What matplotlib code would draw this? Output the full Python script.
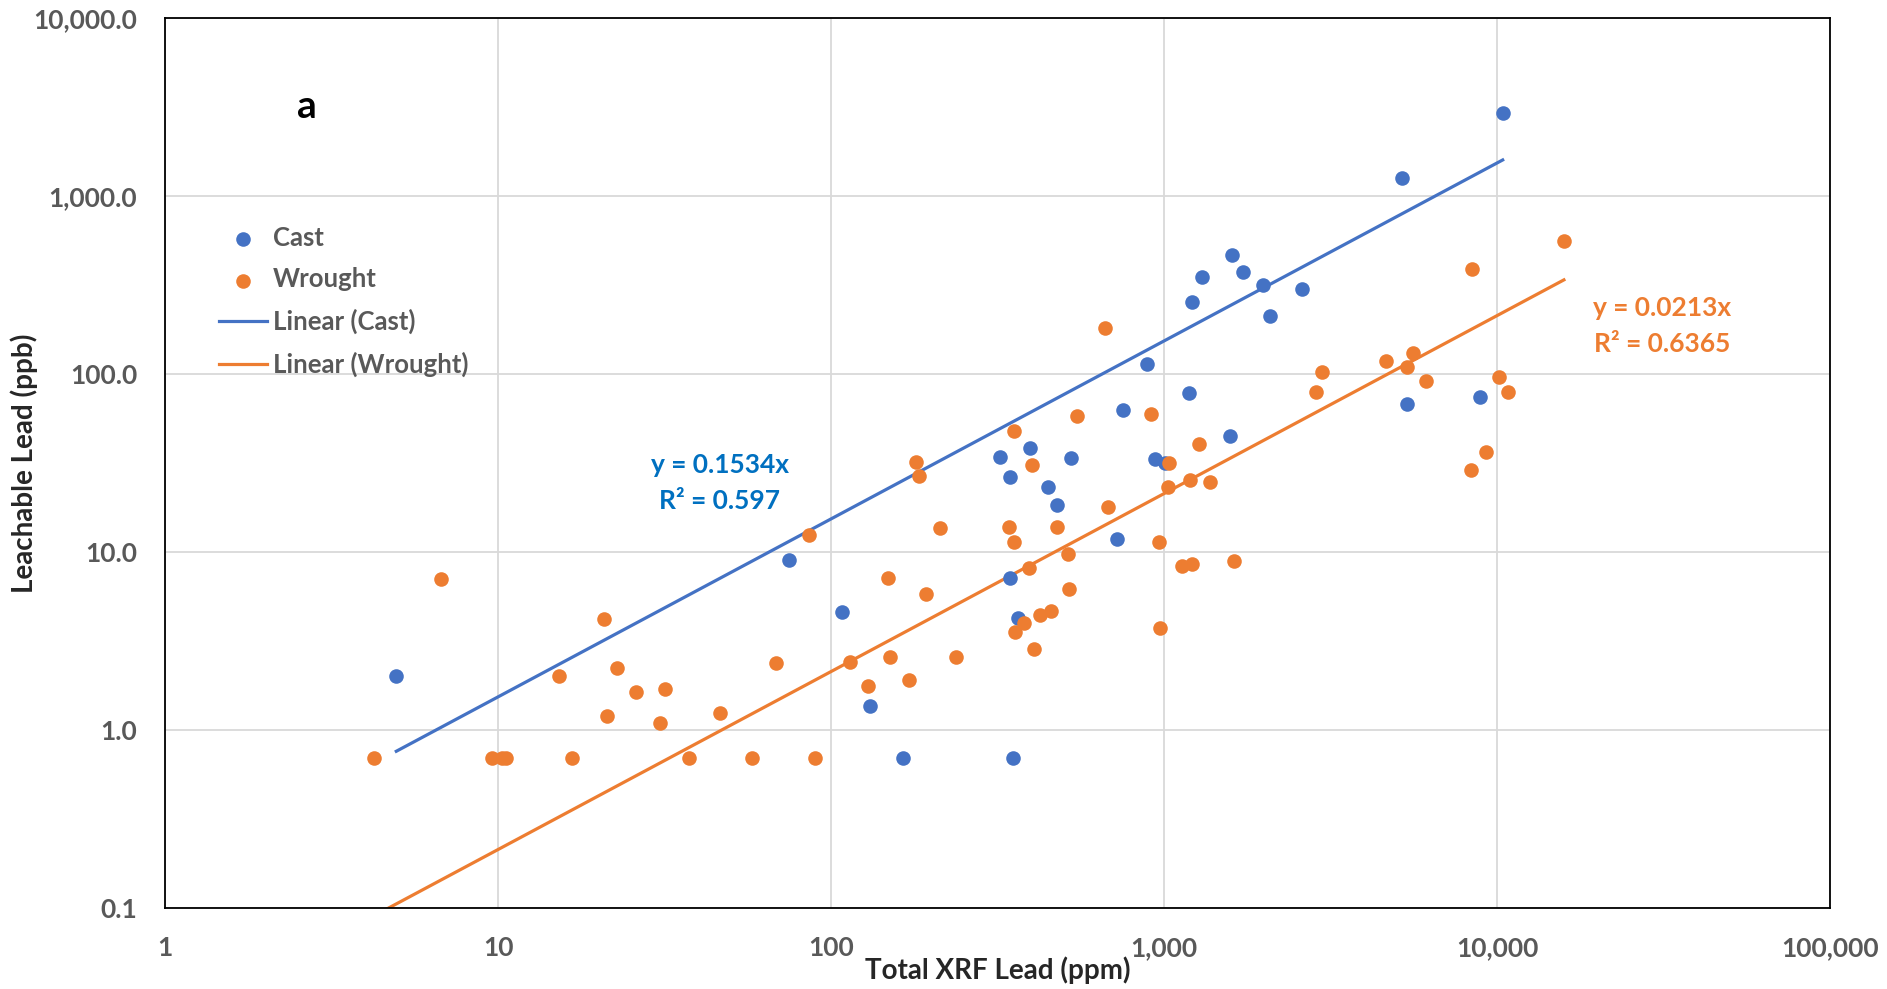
import numpy as np
import matplotlib.pyplot as plt
from matplotlib.ticker import FixedLocator, FixedFormatter, NullLocator

plt.rcParams['font.family'] = ['Lato', 'DejaVu Sans']

# Cast samples: total XRF lead (ppm) vs leachable lead (ppb)
cast_x = [4.95, 74.8, 108, 131, 164, 351, 322, 345, 395, 449, 478, 525, 345, 363,
          724, 753, 885, 936, 1005, 1183, 1208, 1300, 1600, 1726, 1977, 2075, 2600,
          1574, 5176, 5346, 8870, 10380]
cast_y = [2.0, 9.0, 4.58, 1.37, 0.7, 0.7, 34.3, 26.5, 38.6, 23.2, 18.4, 33.6, 7.12, 4.26,
          11.8, 62.5, 114, 33.2, 31.4, 78.2, 255, 352, 467, 372, 315, 211, 301,
          44.9, 1264, 67.5, 73.8, 2912]

# Wrought samples
wrought_x = [4.24, 6.73, 9.57, 10.3, 10.6, 15.2, 16.7, 20.8, 21.3, 22.8, 25.9, 30.7, 31.7,
             37.4, 46.5, 57.9, 68.5, 86.1, 89.6, 114, 129, 148, 150, 171, 180, 183, 193,
             212, 237, 342, 354, 353, 357, 379, 392, 406, 401, 425, 456, 475, 515, 517,
             547, 662, 678, 912, 962, 973, 1035, 1026, 1128, 1197, 1214, 1268, 1377,
             1622, 2857, 2980, 4624, 5355, 5573, 6109, 8310, 8414, 9265, 10090, 10740,
             15850]
wrought_y = [0.7, 7.08, 0.7, 0.7, 0.7, 2.01, 0.7, 4.22, 1.2, 2.23, 1.63, 1.09, 1.69,
             0.7, 1.25, 0.7, 2.39, 12.46, 0.7, 2.41, 1.76, 7.14, 2.57, 1.92, 32.2, 26.8, 5.81,
             13.7, 2.56, 13.9, 47.6, 11.4, 3.53, 3.98, 8.17, 2.84, 30.9, 4.45, 4.63, 13.8, 9.7, 6.22,
             57.9, 181, 17.9, 59.2, 11.4, 3.75, 31.8, 23.3, 8.34, 25.5, 8.53, 40.2, 24.7,
             8.91, 79.4, 103, 118, 110, 131, 91.6, 28.7, 389, 36.2, 96.6, 79.1,
             556]

cast_slope = 0.1534
cast_r2 = 0.597
wrought_slope = 0.0213
wrought_r2 = 0.6365

x_ticks = [1, 10, 100, 1000, 10000, 100000]
x_labels = ['1', '10', '100', '1,000', '10,000', '100,000']
y_ticks = [0.1, 1, 10, 100, 1000, 10000]
y_labels = ['0.1', '1.0', '10.0', '100.0', '1,000.0', '10,000.0']

blue = '#4472C4'
orange = '#ED7D31'

fig = plt.figure(figsize=(18.87, 9.89), dpi=100)
ax = fig.add_axes([0.0874, 0.0819, 0.8826, 0.9], zorder=1)
ax.set_xscale('log')
ax.set_yscale('log')
ax.set_xlim(1, 100000)
ax.set_ylim(0.1, 10000)

ax.scatter(cast_x, cast_y, s=110, color=blue, lw=0, label='Cast', zorder=3)
ax.scatter(wrought_x, wrought_y, s=110, color=orange, lw=0, label='Wrought', zorder=3)

# trendlines through the origin (as given in the chart)
cx = np.array([min(cast_x), max(cast_x)])
wx = np.array([min(wrought_x), max(wrought_x)])
ax.plot(cx, cast_slope * cx, color=blue, lw=2.3, label='Linear (Cast)', zorder=2)
ax.plot(wx, wrought_slope * wx, color=orange, lw=2.3, label='Linear (Wrought)', zorder=2)

ax.xaxis.set_major_locator(FixedLocator(x_ticks))
ax.xaxis.set_major_formatter(FixedFormatter(x_labels))
ax.yaxis.set_major_locator(FixedLocator(y_ticks))
ax.yaxis.set_major_formatter(FixedFormatter(y_labels))
ax.xaxis.set_minor_locator(NullLocator())
ax.yaxis.set_minor_locator(NullLocator())
ax.tick_params(axis='both', length=0, labelsize=19, labelcolor='#595959')
ax.tick_params(axis='x', pad=20)
ax.tick_params(axis='y', pad=20)
for lab in ax.get_xticklabels() + ax.get_yticklabels():
    lab.set_fontweight('bold')

ax.grid(True, color='#D9D9D9', lw=1.3)
ax.set_axisbelow(True)
for sp in ax.spines.values():
    sp.set_color('black')
    sp.set_linewidth(1.3)

ax.set_xlabel('Total XRF Lead (ppm)', fontsize=20, fontweight='bold', color='#262626')
ax.xaxis.set_label_coords(0.5, -0.054)
ax.set_ylabel('Leachable Lead (ppb)', fontsize=20, fontweight='bold', color='#262626')
ax.yaxis.set_label_coords(-0.0765, 0.5)

ax.text(0.0853, 0.901, 'a', transform=ax.transAxes, fontsize=28, fontweight='bold',
        ha='center', va='center', color='black')

ax.text(0.333, 0.478, f'y = {cast_slope}x\nR² = {cast_r2}', transform=ax.transAxes,
        fontsize=19, fontweight='bold', color='#0070C0', ha='center', va='center',
        multialignment='center', linespacing=1.6)
ax.text(0.899, 0.654, f'y = {wrought_slope}x\nR² = {wrought_r2}', transform=ax.transAxes,
        fontsize=19, fontweight='bold', color=orange, ha='center', va='center',
        multialignment='center', linespacing=1.6)

leg = ax.legend(loc='upper left', bbox_to_anchor=(0.0264, 0.778), frameon=False,
                fontsize=18.5, handlelength=1.87, handletextpad=0.22, labelspacing=0.68,
                borderaxespad=0)
for t in leg.get_texts():
    t.set_color('#595959')
    t.set_fontweight('bold')

plt.savefig('out.png', dpi=100)
